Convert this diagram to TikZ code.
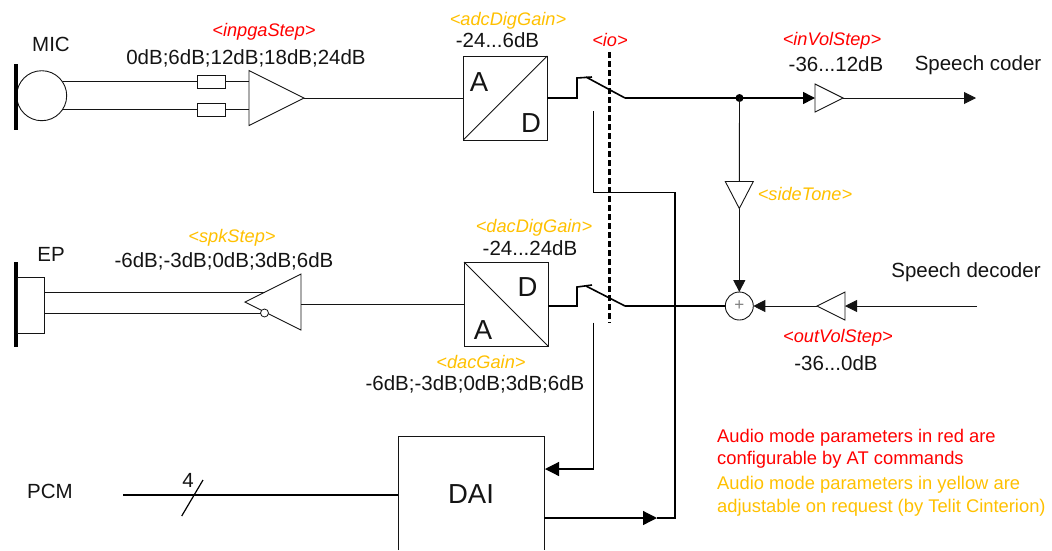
\documentclass[tikz,border=0pt]{standalone}
\usepackage{fontspec}
\setmainfont{Liberation Sans}
\usetikzlibrary{shapes.geometric,arrows.meta}
\definecolor{amber}{RGB}{255,192,0}
\definecolor{redp}{RGB}{255,0,0}
\definecolor{ink}{RGB}{20,20,20}
\tikzset{
  wire/.style={draw=ink,line width=0.9pt},
  bus/.style={draw=black,line width=1.6pt},
  fat/.style={draw=black,line width=4pt},
  head/.style={-{Triangle[length=12pt,width=12pt]}},
  tri/.style={draw=ink,line width=0.9pt,fill=white,isosceles triangle,isosceles triangle stretches,inner sep=0pt,outer sep=0pt,minimum height=#1},
  tri/.default=28pt,
  res/.style={draw=ink,line width=0.9pt,fill=white,minimum width=28pt,minimum height=13.5pt,inner sep=0pt,outer sep=0pt},
  conv/.style={draw=ink,line width=0.9pt,minimum width=84pt,minimum height=84pt,inner sep=0pt,outer sep=0pt},
  txt/.style={font=\fontsize{20.5pt}{22pt}\selectfont,text=ink,inner sep=0pt},
  bigtxt/.style={font=\fontsize{27.5pt}{30pt}\selectfont,text=ink,inner sep=0pt},
  red/.style={font=\fontsize{18.2pt}{20pt}\selectfont\itshape,text=redp,inner sep=0pt},
  yel/.style={font=\fontsize{18.2pt}{20pt}\selectfont\itshape,text=amber,inner sep=0pt},
  legr/.style={font=\fontsize{18.35pt}{20pt}\selectfont,text=redp,inner sep=0pt,anchor=west},
  legy/.style={font=\fontsize{18.35pt}{20pt}\selectfont,text=amber,inner sep=0pt,anchor=west},
}
\begin{document}
\begin{tikzpicture}[x=1pt,y=-1pt]
\useasboundingbox (0,0) rectangle (1052,550);
% MIC
\node[circle,draw=ink,line width=0.9pt,minimum size=50pt,inner sep=0pt,outer sep=0pt] (mic) at (41.7,95.7) {};
\coordinate (micbarT) at (16,64); \coordinate (micbarB) at (16,130);
\draw[fat] (micbarT) -- (micbarB);
\node[res] (r1) at (211.5,81.7) {};
\node[res] (r2) at (211.5,109.7) {};
\node[tri=55pt,minimum width=55pt,anchor=apex] (amp) at (304,98) {};
\coordinate (m1) at (63,81.7); \coordinate (m2) at (63,109.7);
\coordinate (a1) at (249,81.7); \coordinate (a2) at (249,109.7);
\draw[wire] (m1) -- (r1.west) (r1.east) -- (a1);
\draw[wire] (m2) -- (r2.west) (r2.east) -- (a2);
% ADC
\node[conv] (adc) at (505.3,98) {};
\draw[wire] (adc.south west) -- (adc.north east);
\node[bigtxt] (adcA) at (479,82) {A};
\node[bigtxt] (adcD) at (531,123) {D};
\draw[wire] (amp.apex) -- (adc.west);
% upper switch
\coordinate (sw1a) at (577,98); \coordinate (sw1b) at (577,78); \coordinate (sw1c) at (592,77);
\coordinate (bl1a) at (586,77); \coordinate (bl1b) at (625,98);
\draw[bus] (adc.east) -- (sw1a) -- (sw1b) -- (sw1c);
\draw[bus] (bl1a) -- (bl1b);
\node[circle,fill=black,minimum size=8pt,inner sep=0pt] (dot) at (739.5,98) {};
\node[tri=28pt,minimum width=28pt,anchor=lower side] (invol) at (815,98) {};
\draw[bus] (bl1b) -- (dot.center);
\draw[bus,head] (dot.center) -- (invol.lower side);
\coordinate (coder) at (976,98);
\draw[wire,head] (invol.apex) -- (coder);
% sidetone
\node[tri=27pt,minimum width=28pt,shape border rotate=-90,anchor=lower side] (side) at (739.3,181.5) {};
\draw[wire] (dot.center) -- (side.lower side);
\node[circle,draw=ink,line width=0.9pt,minimum size=28pt,inner sep=0pt,outer sep=0pt,font=\fontsize{17pt}{17pt}\selectfont,text=gray] (sum) at (739.3,306) {+};
\draw[wire,head] (side.apex) -- (sum.north);
% outvol
\node[tri=28pt,minimum width=28pt,shape border rotate=180,anchor=apex] (outvol) at (817,306) {};
\draw[wire,head] (outvol.apex) -- (sum.east);
\coordinate (decoder) at (977,306);
\draw[wire,head] (decoder) -- (outvol.lower side);
% EP
\coordinate (epbarT) at (16,262); \coordinate (epbarB) at (16,347);
\draw[fat] (epbarT) -- (epbarB);
\node[draw=ink,line width=0.9pt,minimum width=27pt,minimum height=56pt,inner sep=0pt,outer sep=0pt] (ep) at (30.5,305) {};
\node[tri=56pt,minimum width=56pt,shape border rotate=180,anchor=apex] (spk) at (245,302) {};
\node[circle,draw=ink,line width=0.8pt,fill=white,minimum size=8pt,inner sep=0pt,outer sep=0pt] (bub) at (264.5,313) {};
\coordinate (e1) at (44,292); \coordinate (e1b) at (265,292);
\coordinate (e2) at (44,313);
\draw[wire] (e1) -- (e1b);
\draw[wire] (e2) -- (bub.west);
% DAC
\node[conv] (dac) at (506,304) {};
\draw[wire] (dac.north west) -- (dac.south east);
\node[bigtxt] (dacD) at (527.5,287) {D};
\node[bigtxt] (dacA) at (483,330) {A};
\coordinate (dacin) at (301,304);
\draw[wire] (dacin) -- (dac.west |- dacin);
% lower switch
\coordinate (sw2o) at (548,306); \coordinate (sw2a) at (577,306); \coordinate (sw2b) at (577,287); \coordinate (sw2c) at (592,285);
\coordinate (bl2a) at (586,286); \coordinate (bl2b) at (625,306);
\draw[bus] (sw2o) -- (sw2a) -- (sw2b) -- (sw2c);
\draw[bus] (bl2a) -- (bl2b);
\draw[bus] (bl2b) -- (sum.west);
% io dashed
\coordinate (ioT) at (609.5,52); \coordinate (ioB) at (609.5,323);
\draw[draw=black,line width=2.4pt,dash pattern=on 6pt off 3pt] (ioT) -- (ioB);
% DAI
\coordinate (daiBL) at (398.3,550); \coordinate (daiTL) at (398.3,436); \coordinate (daiTR) at (544.3,436); \coordinate (daiBR) at (544.3,550);
\draw[wire] (daiBL) -- (daiTL) -- (daiTR) -- (daiBR);
\node[bigtxt] (dai) at (471,494) {DAI};
\coordinate (t1) at (593.5,111); \coordinate (t2) at (593.5,192.7); \coordinate (t3) at (675,192.7); \coordinate (t4) at (675,518);
\coordinate (t5) at (657,518); \coordinate (t6) at (544.3,518);
\draw[line width=1.2pt,draw=black] (t1) -- (t2) -- (t3) -- (t4) -- (t5);
\draw[line width=1.2pt,draw=black,-{Triangle[length=14pt,width=14pt]}] (t6) -- (t5);
\coordinate (u1) at (593.5,322.7); \coordinate (u2) at (593.5,469); \coordinate (u3) at (545,469);
\draw[line width=1.2pt,draw=black,-{Triangle[length=14pt,width=14pt]}] (u1) -- (u2) -- (u3);
% PCM
\coordinate (pcmL) at (123,495); \coordinate (pcmR) at (398.3,495);
\draw[line width=1.2pt,draw=black] (pcmL) -- (pcmR);
\coordinate (sl1) at (181.7,516); \coordinate (sl2) at (203,480);
\draw[line width=1.2pt,draw=black] (sl1) -- (sl2);
% texts
\node[txt] (tMIC) at (51,44) {MIC};
\node[red] (tinpga) at (264,31.5) {<inpgaStep>};
\node[txt] (tinpgav) at (246,58) {0dB;6dB;12dB;18dB;24dB};
\node[yel] (tadc) at (508,20.5) {<adcDigGain>};
\node[txt] (tadcv) at (497.5,40) {-24...6dB};
\node[red] (tio) at (610,40) {<io>};
\node[red] (tinvol) at (832,40.5) {<inVolStep>};
\node[txt] (tinvolv) at (836,64) {-36...12dB};
\node[txt] (tcoder) at (978,65.5) {Speech coder};
\node[yel] (tside) at (805,194) {<sideTone>};
\node[yel] (tspk) at (232,237.5) {<spkStep>};
\node[txt] (tspkv) at (224,261) {-6dB;-3dB;0dB;3dB;6dB};
\node[txt] (tEP) at (51,254) {EP};
\node[yel] (tdac) at (534,227.5) {<dacDigGain>};
\node[txt] (tdacv) at (530,248) {-24...24dB};
\node[txt] (tdec) at (966,272) {Speech decoder};
\node[red] (toutvol) at (838,337.5) {<outVolStep>};
\node[txt] (toutvolv) at (836,363) {-36...0dB};
\node[yel] (tdacg) at (481,361.5) {<dacGain>};
\node[txt] (tdacgv) at (475,384) {-6dB;-3dB;0dB;3dB;6dB};
\node[txt] (tPCM) at (50,491) {PCM};
\node[txt] (tfour) at (188,480) {4};
\node[legr] (l1) at (717,438) {Audio mode parameters in red are};
\node[legr] (l2) at (717,460) {configurable by AT commands};
\node[legy] (l3) at (717,485) {Audio mode parameters in yellow are};
\node[legy] (l4) at (717,508) {adjustable on request (by Telit Cinterion)};
\end{tikzpicture}
\end{document}
